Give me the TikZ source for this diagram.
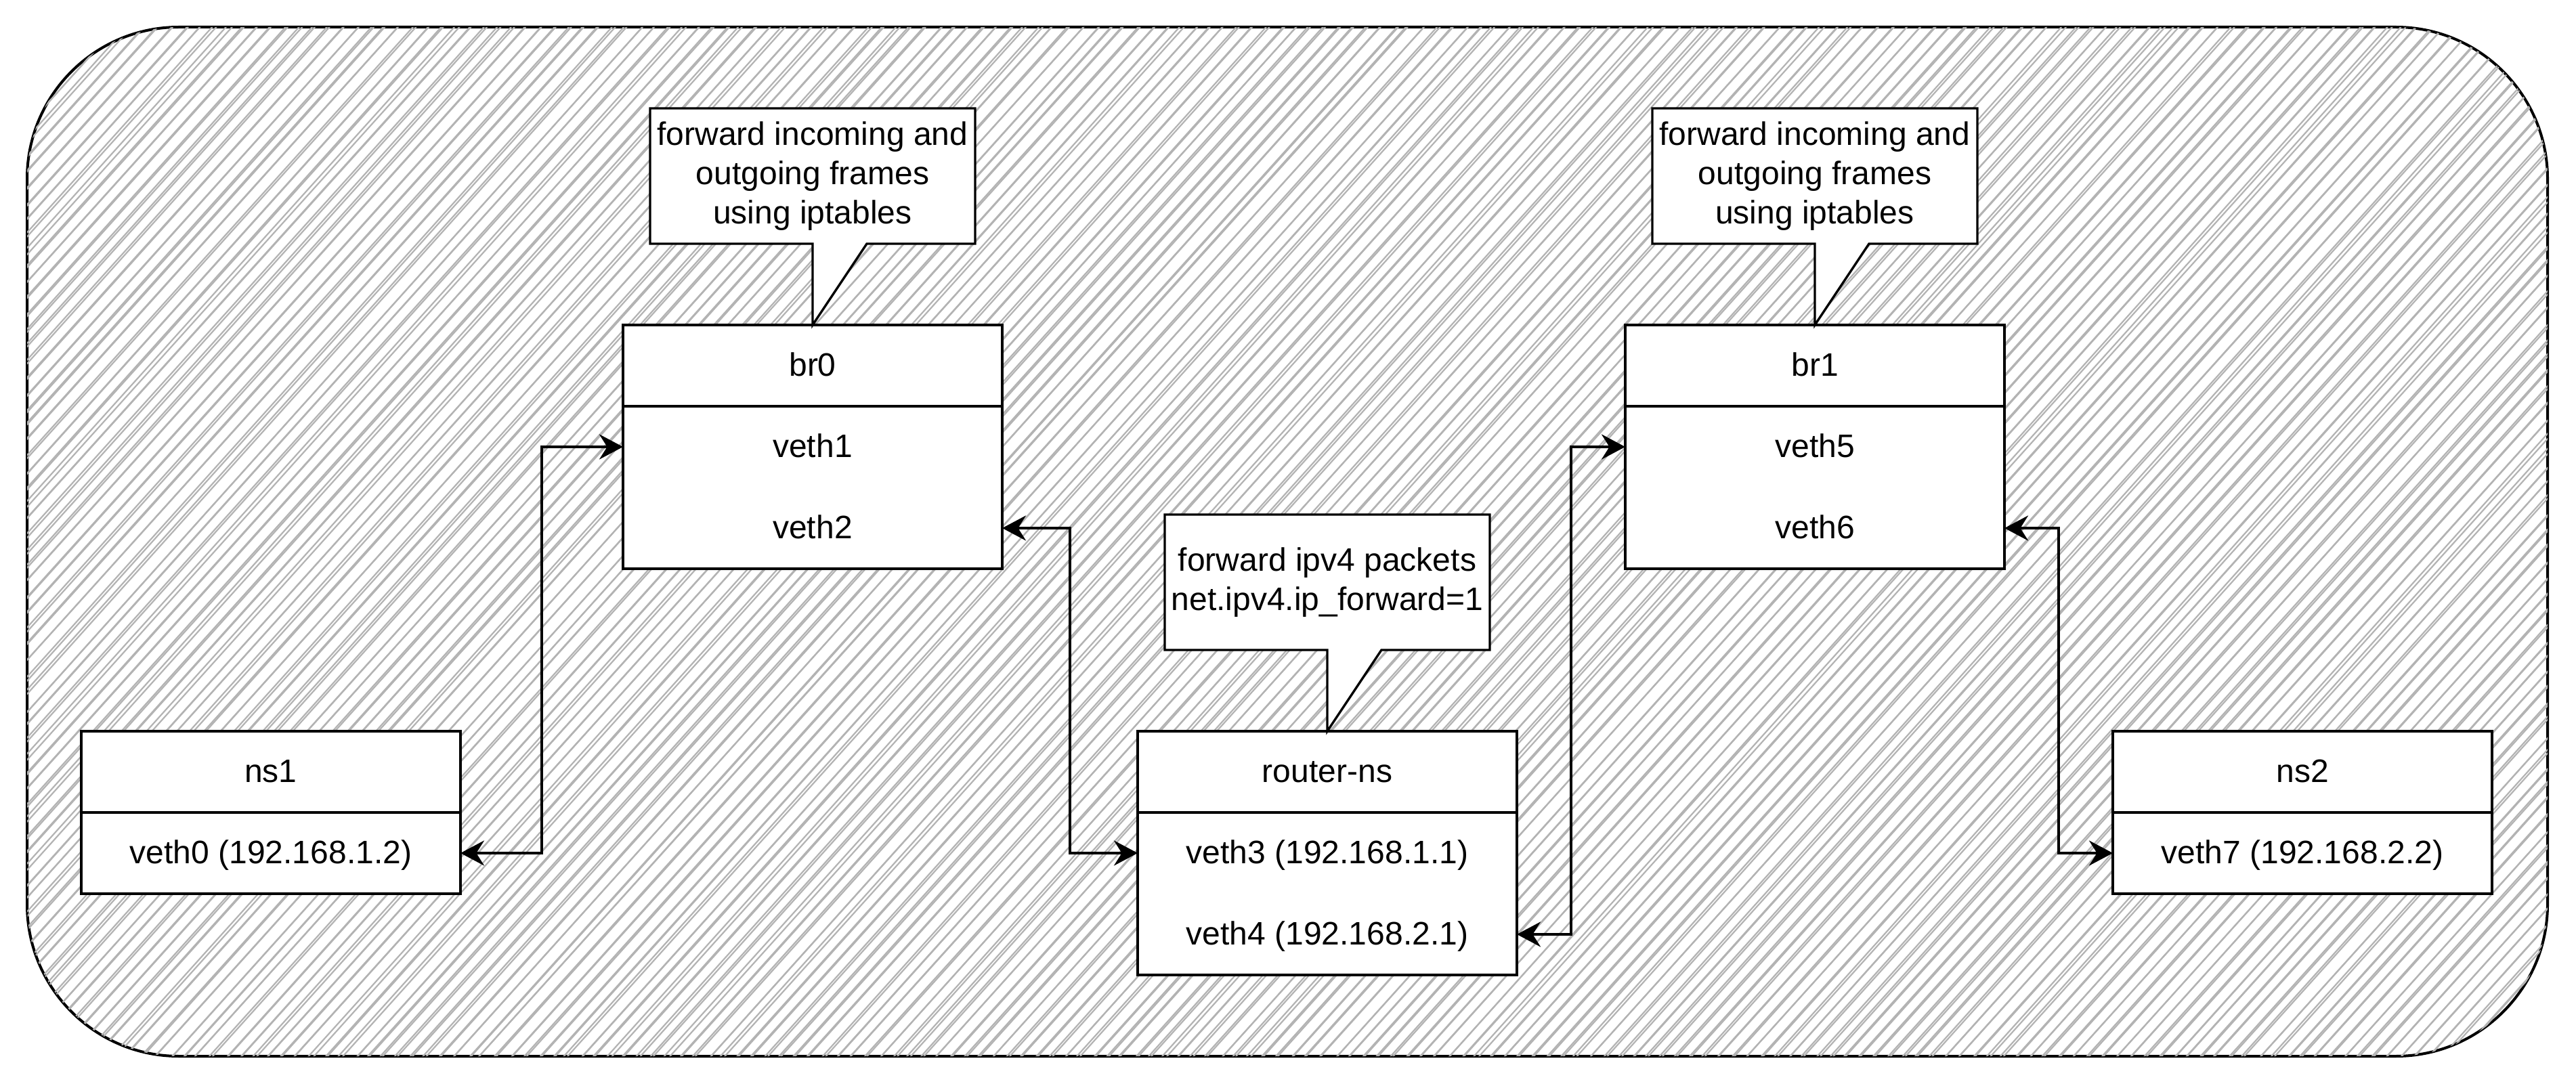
\documentclass[tikz,border=0pt]{standalone}
\usepackage{fontspec}
\setmainfont{Liberation Sans}
\usetikzlibrary{arrows.meta,calc}
\definecolor{hatchgray}{HTML}{B3B3B3}
\begin{document}
\begin{tikzpicture}[x=1pt,y=-1pt,
  every node/.style={font=\fontsize{12pt}{14.4pt}\selectfont, inner sep=0pt, outer sep=0pt},
  fixedtext/.style={text height=9.6pt, text depth=2pt},
  hdrbox/.style={fixedtext, draw=black, line width=0.85pt, fill=white, minimum width=140pt, minimum height=30pt, anchor=north west},
  bodybox/.style={draw=black, line width=0.85pt, fill=white, minimum width=140pt, anchor=north west},
  rowtxt/.style={fixedtext, minimum width=140pt, minimum height=30pt},
  callbox/.style={minimum width=120pt, minimum height=50pt},
  calltxt/.style={align=center},
  callshape/.style={draw=black, line width=0.85pt, fill=white, line join=miter},
  conn/.style={draw=black, line width=1pt, {Stealth[length=8.75pt,width=9.25pt,inset=2.9pt]}-{Stealth[length=8.75pt,width=9.25pt,inset=2.9pt]}},
  hatch/.style={draw=hatchgray, line width=0.55pt},
  outerborder/.style={draw=black, line width=1pt, rounded corners=56pt}
]
\fill[white] (0,0) rectangle (951,401);
\useasboundingbox (0,0) rectangle (951,401);

% container border, then its hachure fill on top
\draw[outerborder] (10,10) rectangle (940.5,390);
\begin{scope}
  \clip[rounded corners=56pt] (10,10) rectangle (940.5,390);
  \pgfmathsetseed{42}
  \foreach \k in {-125,...,125}{
    \foreach \j in {1,2}{
      \pgfmathsetmacro\oa{\k*3.9 + 1.0*rand}
      \pgfmathsetmacro\ob{\k*3.9 + 1.0*rand}
      \pgfmathsetmacro\xa{475+\oa*0.743-560*0.669}
      \pgfmathsetmacro\ya{200+\oa*0.669+560*0.743}
      \pgfmathsetmacro\xb{475+\ob*0.743+560*0.669}
      \pgfmathsetmacro\yb{200+\ob*0.669-560*0.743}
      \draw[hatch] (\xa,\ya) -- (\xb,\yb);
    }
  }
\end{scope}

% ns1
\node[hdrbox] (ns1) at (30,270) {ns1};
\node[bodybox, minimum height=30pt] (ns1b) at (ns1.south west) {};
\node[rowtxt] (ns1a) at ($(ns1.south)+(0,15)$) {veth0 (192.168.1.2)};

% br0
\node[hdrbox] (br0) at (230,120) {br0};
\node[bodybox, minimum height=60pt] (br0b) at (br0.south west) {};
\node[rowtxt] (br0a) at ($(br0.south)+(0,15)$) {veth1};
\node[rowtxt] (br0c) at ($(br0.south)+(0,45)$) {veth2};

% router-ns
\node[hdrbox] (rt) at (420,270) {router-ns};
\node[bodybox, minimum height=60pt] (rtb) at (rt.south west) {};
\node[rowtxt] (rta) at ($(rt.south)+(0,15)$) {veth3 (192.168.1.1)};
\node[rowtxt] (rtc) at ($(rt.south)+(0,45)$) {veth4 (192.168.2.1)};

% br1
\node[hdrbox] (br1) at (600,120) {br1};
\node[bodybox, minimum height=60pt] (br1b) at (br1.south west) {};
\node[rowtxt] (br1a) at ($(br1.south)+(0,15)$) {veth5};
\node[rowtxt] (br1c) at ($(br1.south)+(0,45)$) {veth6};

% ns2
\node[hdrbox] (ns2) at (780,270) {ns2};
\node[bodybox, minimum height=30pt] (ns2b) at (ns2.south west) {};
\node[rowtxt] (ns2a) at ($(ns2.south)+(0,15)$) {veth7 (192.168.2.2)};

% connectors
\draw[conn] (ns1a.east) -- ++(30,0) |- (br0a.west);
\draw[conn] (br0c.east) -- ++(25,0) |- (rta.west);
\draw[conn] (rtc.east) -- ++(20,0) |- (br1a.west);
\draw[conn] (br1c.east) -- ++(20,0) |- (ns2a.west);

% callouts
\node[callbox] (cb1) at ($(br0.north)+(0,-55)$) {};
\draw[callshape] (cb1.north west) -- (cb1.north east) -- (cb1.south east) -- ($(cb1.south)+(20,0)$) -- (br0.north) -- (cb1.south) -- (cb1.south west) -- cycle;
\node[calltxt] (cb1t) at (cb1) {forward incoming and\\outgoing frames\\using iptables};

\node[callbox] (cb2) at ($(rt.north)+(0,-55)$) {};
\draw[callshape] (cb2.north west) -- (cb2.north east) -- (cb2.south east) -- ($(cb2.south)+(20,0)$) -- (rt.north) -- (cb2.south) -- (cb2.south west) -- cycle;
\node[calltxt] (cb2t) at (cb2) {forward ipv4 packets\\net.ipv4.ip\_forward=1};

\node[callbox] (cb3) at ($(br1.north)+(0,-55)$) {};
\draw[callshape] (cb3.north west) -- (cb3.north east) -- (cb3.south east) -- ($(cb3.south)+(20,0)$) -- (br1.north) -- (cb3.south) -- (cb3.south west) -- cycle;
\node[calltxt] (cb3t) at (cb3) {forward incoming and\\outgoing frames\\using iptables};
\end{tikzpicture}
\end{document}
